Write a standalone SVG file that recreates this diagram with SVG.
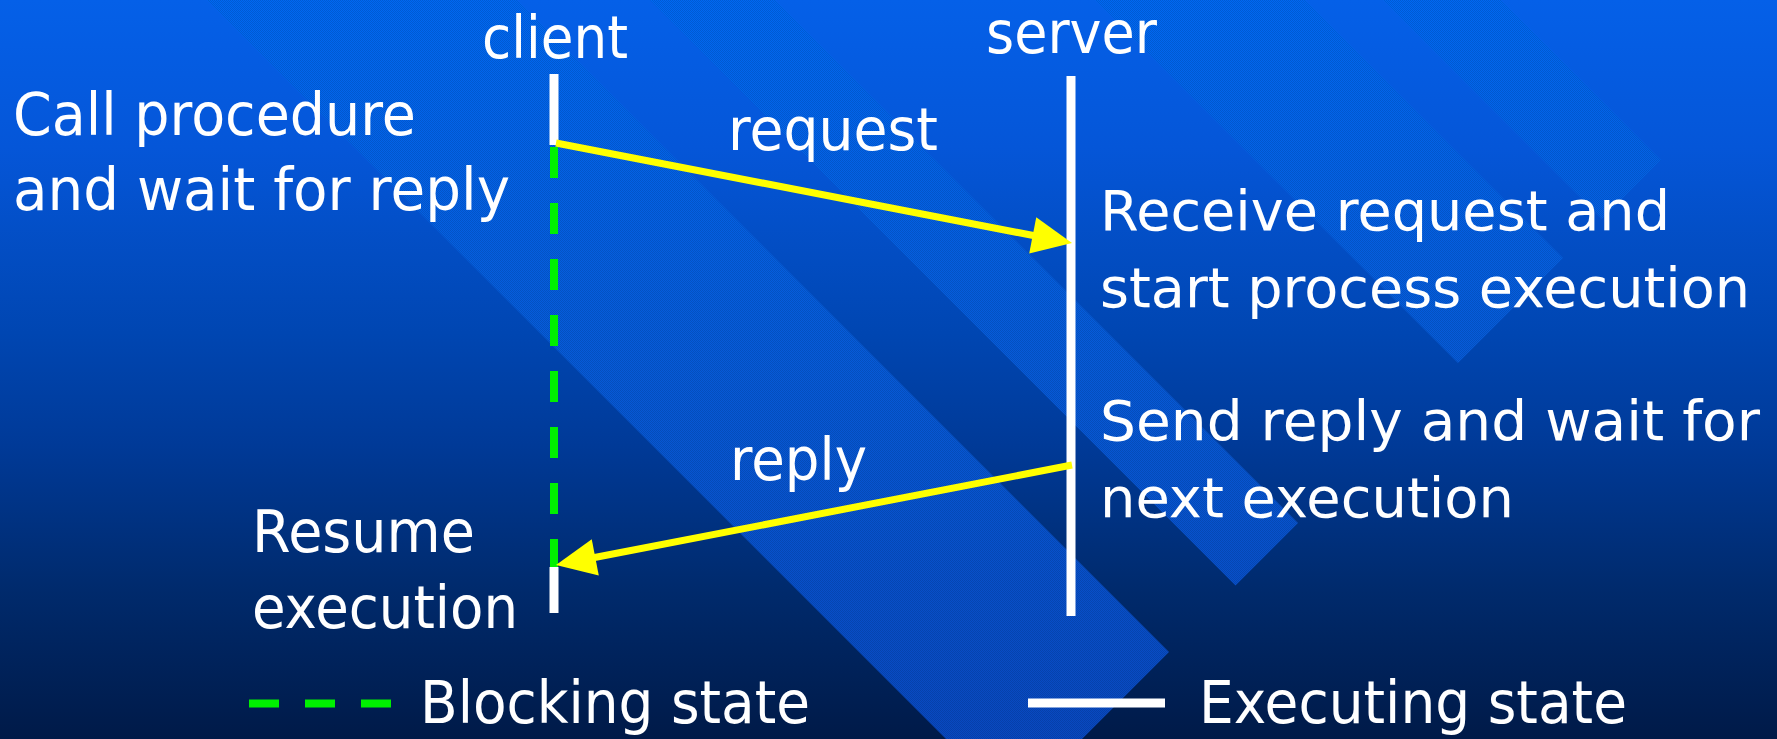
<svg xmlns="http://www.w3.org/2000/svg" width="1777" height="739" viewBox="0 0 1777 739">
  <defs>
    <linearGradient id="bgGrad" x1="0" y1="0" x2="0" y2="739" gradientUnits="userSpaceOnUse">
      <stop offset="0" stop-color="#0560e8"/>
      <stop offset="0.2" stop-color="#0556d8"/>
      <stop offset="0.45" stop-color="#0046b2"/>
      <stop offset="0.6" stop-color="#003a98"/>
      <stop offset="0.8" stop-color="#002a6c"/>
      <stop offset="1" stop-color="#001a48"/>
    </linearGradient>
    <linearGradient id="bandGrad" x1="0" y1="0" x2="0" y2="739" gradientUnits="userSpaceOnUse">
      <stop offset="0" stop-color="#0068f2"/>
      <stop offset="0.5" stop-color="#065ad8"/>
      <stop offset="1" stop-color="#0848c0"/>
    </linearGradient>
    <pattern id="dither" width="2" height="2" patternUnits="userSpaceOnUse">
      <rect x="0" y="0" width="1" height="1" fill="#000" fill-opacity="0.12"/>
      <rect x="1" y="1" width="1" height="1" fill="#000" fill-opacity="0.12"/>
    </pattern>
    <marker id="arrowHead" markerUnits="userSpaceOnUse" markerWidth="44" markerHeight="40" refX="2" refY="0" orient="auto" viewBox="0 -20 44 40" overflow="visible">
      <path d="M0,-18.5 L40,0 L0,18.5 Z" fill="#ffff00"/>
    </marker>
    <style>
      .lbl { font-family: "DejaVu Sans", "Liberation Sans", sans-serif; font-size: 58px; fill: #ffffff; }
      .side { font-size: 56px; }
      .life { stroke: #ffffff; stroke-width: 9; fill: none; }
      .block { stroke: #00f000; stroke-width: 8; fill: none; }
      .msg { stroke: #ffff00; stroke-width: 7; fill: none; marker-end: url(#arrowHead); }
    </style>
  </defs>

  <!-- background with diagonal bands -->
  <rect x="0" y="0" width="1777" height="739" fill="url(#bgGrad)"/>
  <g id="bands">
    <polygon points="207,0 517,0 1169,652 1014,807" fill="url(#bandGrad)"/>
    <polygon points="650,0 775,0 1298,523 1235.5,585.5" fill="url(#bandGrad)"/>
    <polygon points="1095,0 1305,0 1563,258 1458,363" fill="url(#bandGrad)"/>
    <polygon points="1383,0 1501,0 1661,160 1602,219" fill="url(#bandGrad)"/>
  </g>
  <g id="bandsTexture" fill="url(#dither)">
    <polygon points="207,0 517,0 1169,652 1014,807"/>
    <polygon points="650,0 775,0 1298,523 1235.5,585.5"/>
    <polygon points="1095,0 1305,0 1563,258 1458,363"/>
    <polygon points="1383,0 1501,0 1661,160 1602,219"/>
  </g>

  <!-- client lifeline -->
  <g id="client">
    <text class="lbl" x="482" y="58" textLength="146" lengthAdjust="spacingAndGlyphs">client</text>
    <line class="life" x1="554" y1="74" x2="554" y2="145"/>
    <line class="block" x1="554" y1="147" x2="554" y2="567" stroke-dasharray="31 25"/>
    <line class="life" x1="554" y1="567" x2="554" y2="613"/>
  </g>

  <!-- server lifeline -->
  <g id="server">
    <text class="lbl" x="986" y="53" textLength="171" lengthAdjust="spacingAndGlyphs">server</text>
    <line class="life" x1="1071" y1="76" x2="1071" y2="616"/>
  </g>

  <!-- step notes -->
  <g id="note-call">
    <text class="lbl" x="13" y="135" textLength="403" lengthAdjust="spacingAndGlyphs">Call procedure</text>
    <text class="lbl" x="13" y="210" textLength="497" lengthAdjust="spacingAndGlyphs">and wait for reply</text>
  </g>
  <g id="note-receive">
    <text class="lbl side" x="1100" y="230" textLength="570" lengthAdjust="spacingAndGlyphs">Receive request and</text>
    <text class="lbl side" x="1100" y="307" textLength="650" lengthAdjust="spacingAndGlyphs">start process execution</text>
  </g>
  <g id="note-send">
    <text class="lbl side" x="1100" y="440" textLength="660" lengthAdjust="spacingAndGlyphs">Send reply and wait for</text>
    <text class="lbl side" x="1100" y="517" textLength="414" lengthAdjust="spacingAndGlyphs">next execution</text>
  </g>
  <g id="note-resume">
    <text class="lbl" x="252" y="552" textLength="223" lengthAdjust="spacingAndGlyphs">Resume</text>
    <text class="lbl" x="252" y="628" textLength="266" lengthAdjust="spacingAndGlyphs">execution</text>
  </g>

  <!-- messages -->
  <g id="connectors">
    <line class="msg" x1="556" y1="143" x2="1034.7" y2="235.8"/>
    <text class="lbl" x="728" y="150" textLength="210" lengthAdjust="spacingAndGlyphs">request</text>
    <line class="msg" x1="1072" y1="465" x2="593.3" y2="557.8"/>
    <text class="lbl" x="730" y="480" textLength="137" lengthAdjust="spacingAndGlyphs">reply</text>
  </g>

  <!-- legend -->
  <g id="legend-blocking">
    <line class="block" x1="249" y1="703.5" x2="391" y2="703.5" stroke-dasharray="30 26"/>
    <text class="lbl" x="420" y="723" textLength="390" lengthAdjust="spacingAndGlyphs">Blocking state</text>
  </g>
  <g id="legend-executing">
    <line class="life" x1="1028" y1="703" x2="1165" y2="703" stroke-width="8"/>
    <text class="lbl" x="1199" y="723" textLength="428" lengthAdjust="spacingAndGlyphs">Executing state</text>
  </g>
</svg>
